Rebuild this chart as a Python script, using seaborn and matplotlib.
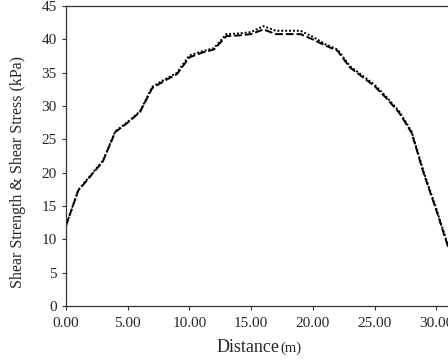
import pandas as pd
import matplotlib.pyplot as plt
import seaborn as sns

distance = [0, 1, 2, 3, 4, 5, 6, 7, 8, 9, 10, 11, 12, 13, 14, 15, 16,
            17, 18, 19, 20, 21, 22, 23, 24, 25, 26, 27, 28, 29, 30, 31]
shear_strength = [12.0, 17.4, 19.6, 21.8, 26.2, 27.6, 29.2, 32.9, 34.0, 35.0, 37.6, 38.2, 38.7,
                  40.8, 40.9, 41.1, 42.0, 41.3, 41.3, 41.3, 40.4, 39.3, 38.5, 36.0, 34.6, 33.2,
                  31.3, 29.2, 26.2, 20.0, 14.6, 8.8]
shear_stress = [12.0, 17.3, 19.5, 21.7, 26.1, 27.5, 29.1, 32.7, 33.8, 34.8, 37.3, 38.0, 38.5,
                40.5, 40.6, 40.8, 41.5, 40.8, 40.8, 40.8, 40.0, 39.1, 38.3, 35.8, 34.4, 33.0,
                31.1, 29.0, 26.0, 19.8, 14.4, 8.6]

df = pd.DataFrame({
    "Distance": distance * 2,
    "Value": shear_strength + shear_stress,
    "Series": ["Shear Strength"] * len(distance) + ["Shear Stress"] * len(distance),
})

sns.set_style("ticks")
plt.rcParams['font.family'] = ['Liberation Serif', 'DejaVu Serif']

fig = plt.figure(figsize=(4.48, 3.6), dpi=100)
ax = fig.add_axes([0.147, 0.15, 0.853, 0.833])

sns.lineplot(data=df, x="Distance", y="Value", style="Series", color="black",
             dashes={"Shear Strength": (1, 1), "Shear Stress": (4, 1.5)},
             linewidth=1.4, legend=False, ax=ax)

ax.set_xlim(0, 30.95)
ax.set_ylim(0, 45)
ax.set_xticks([0, 5, 10, 15, 20, 25, 30])
ax.set_xticklabels(["0.00", "5.00", "10.00", "15.00", "20.00", "25.00", "30.00"])
ax.set_yticks(range(0, 46, 5))
ax.tick_params(labelsize=11, length=3, width=0.8, color="#333333")
ax.tick_params(axis="x", pad=5)
ax.spines["right"].set_visible(False)
for s in ["left", "bottom", "top"]:
    ax.spines[s].set_linewidth(0.9)
    ax.spines[s].set_color("#333333")

ax.set_xlabel("")
ax.set_ylabel("Shear Strength & Shear Stress (kPa)", fontsize=11.5)
ax.yaxis.set_label_coords(-0.105, 0.447)
fig.text(0.625, 0.022, "Distance", fontsize=13, ha="right", va="baseline")
fig.text(0.625, 0.022, "(m)", fontsize=10.5, ha="left", va="baseline")

fig.savefig("out.png", dpi=100)
